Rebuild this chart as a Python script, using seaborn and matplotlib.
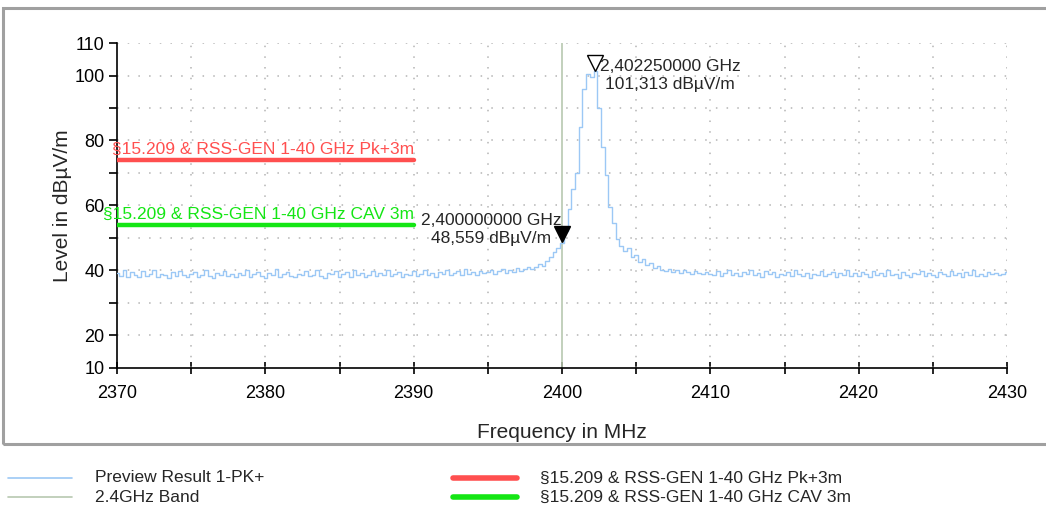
import numpy as np
import matplotlib.pyplot as plt
import seaborn as sns
from matplotlib.lines import Line2D
from matplotlib.patches import Rectangle
from matplotlib.transforms import offset_copy

# sweep: 2370 .. 2430 MHz, 0.25 MHz step
freq_start = 2370.0
freq_stop = 2430.0
freq_step = 0.25

level = [
    39.2, 38.4, 40.1, 38.0, 39.5, 38.7, 37.9, 39.8, 38.3, 38.9, 40.3, 38.1, 39.0, 38.6, 37.8, 39.4, 38.2, 39.9, 38.5, 37.9,
    38.8, 39.6, 38.0, 38.7, 40.0, 38.4, 37.7, 39.1, 38.6, 39.7, 38.2, 38.9, 37.9, 39.3, 38.5, 40.2, 38.1, 38.8, 39.5, 38.3,
    37.8, 39.2, 38.6, 40.4, 38.0, 38.9, 39.6, 38.3, 37.9, 39.0, 38.7, 39.8, 38.2, 38.5, 40.1, 38.4, 37.8, 39.3, 38.8, 39.7,
    38.1, 38.9, 39.4, 38.0, 40.0, 38.6, 39.1, 37.9, 38.7, 39.9, 38.3, 39.2, 38.5, 40.3, 38.2, 38.8, 39.5, 38.1, 39.0, 38.6,
    39.7, 38.4, 38.9, 40.2, 38.6, 39.3, 38.1, 39.6, 38.8, 40.0, 38.5, 39.2, 39.8, 38.7, 40.4, 38.9, 39.4, 38.6, 39.9, 39.1,
    39.5, 40.3, 38.9, 39.8, 40.6, 39.2, 40.1, 39.6, 40.8, 39.9, 40.5, 41.2, 40.4, 41.0, 42.1, 41.5, 43.0, 44.2, 45.6, 46.9,
    48.6, 52.0, 59.0, 65.0, 70.0, 84.0, 96.0, 100.5, 99.6, 101.3, 90.0, 78.0, 69.5, 59.5, 54.5, 49.8, 47.5, 46.0, 46.8, 44.3,
    44.8, 42.6, 43.5, 41.8, 42.4, 40.9, 41.3, 40.2, 39.8, 40.5, 39.6, 40.1, 39.3, 40.0, 39.4, 38.9, 39.7, 39.2, 38.8, 39.5,
    39.0, 38.6, 39.8, 38.4, 39.3, 40.2, 38.7, 39.1, 38.3, 39.6, 38.9, 40.0, 38.5, 39.2, 38.1, 39.7, 38.8, 39.4, 37.9, 39.0,
    38.6, 39.5, 38.2, 40.1, 38.9, 38.4, 39.3, 37.8, 39.0, 38.5, 39.8, 38.3, 38.9, 39.6, 38.0, 39.2, 38.7, 40.0, 38.4, 39.1,
    38.2, 39.4, 38.8, 37.9, 39.7, 38.5, 39.1, 38.3, 40.2, 38.6, 39.0, 37.8, 39.5, 38.7, 38.1, 39.3, 38.9, 39.8, 38.4, 39.2,
    38.5, 37.9, 39.6, 38.8, 38.3, 39.9, 38.6, 39.2, 38.0, 39.4, 38.7, 40.1, 38.4, 39.0, 38.2, 39.5, 38.8, 39.3, 38.5, 39.0,
    39.4,
]
freq = np.arange(freq_start, freq_stop + freq_step / 2, freq_step)

# limit lines (dBuV/m), drawn over 2370..2390 MHz
limit_freq = [2370, 2390]
limit_pk = [74, 74]
limit_cav = [54, 54]
band_edge = 2400

pk_label = "§15.209 & RSS-GEN 1-40 GHz Pk+3m"
cav_label = "§15.209 & RSS-GEN 1-40 GHz CAV 3m"

marker1 = (2402.25, 101.313)
marker2 = (2400.0, 48.559)

sns.set_style("white")
plt.rcParams['font.family'] = ['Liberation Sans', 'DejaVu Sans']

fig = plt.figure(figsize=(10.46, 5.12), dpi=100)
ax = fig.add_axes([0.1119, 0.2813, 0.8508, 0.6347])

trace_c = '#9cc8f5'
band_c = '#b8c8b0'
red_c = '#ff4f4f'
green_c = '#14e614'

ax.axvline(band_edge, color=band_c, lw=1.2, zorder=2)
sns.lineplot(x=freq, y=level, ax=ax, color=trace_c, lw=1, sort=False,
             estimator=None, drawstyle='steps-mid', zorder=3)
sns.lineplot(x=limit_freq, y=limit_pk, ax=ax, color=red_c, lw=3.2, estimator=None, zorder=4)
sns.lineplot(x=limit_freq, y=limit_cav, ax=ax, color=green_c, lw=3.2, estimator=None, zorder=4)

ax.text(2390, limit_pk[0] + 1.0, pk_label, color=red_c, fontsize=12.5, ha='right', va='bottom')
ax.text(2390, limit_cav[0] + 1.0, cav_label, color=green_c, fontsize=12.5, ha='right', va='bottom')

# markers
up = offset_copy(ax.transData, fig=fig, x=0, y=6, units='points')
ax.plot(*marker1, marker='v', ms=11, mfc='white', mec='black', mew=1, transform=up, zorder=6)
ax.plot(*marker2, marker='v', ms=11, mfc='black', mec='black', transform=up, zorder=6)
ax.text(marker1[0] + 0.3, marker1[1] + 3.8, "2,402250000 GHz\n101,313 dBµV/m",
        fontsize=12.5, ha='left', va='top', multialignment='center', linespacing=1.3, zorder=7)
ax.text(marker2[0] - 0.05, marker2[1] + 9.2, "2,400000000 GHz\n48,559 dBµV/m",
        fontsize=12.5, ha='right', va='top', multialignment='center', linespacing=1.3, zorder=7)

ax.set_xlim(2370, 2430)
ax.set_ylim(10, 110)
ax.set_xticks(np.arange(2370, 2431, 10))
ax.set_xticks(np.arange(2375, 2431, 10), minor=True)
ax.set_yticks(np.arange(10, 111, 10))
ax.set_yticklabels(['10', '20', '', '40', '', '60', '', '80', '', '100', '110'])

grid_kw = dict(color='#b4b4b4', lw=1.1, ls=(0, (1, 6)), zorder=1)
for y in range(20, 111, 10):
    ax.axhline(y, **grid_kw)
for x in np.arange(2375, 2431, 5):
    if x != band_edge:
        ax.axvline(x, **grid_kw)

for s in ['top', 'right']:
    ax.spines[s].set_visible(False)
for s in ['left', 'bottom']:
    ax.spines[s].set_color('black')
    ax.spines[s].set_linewidth(1.2)
ax.tick_params(axis='x', which='both', direction='inout', length=9, width=1.2,
               labelsize=13, pad=8, colors='black', bottom=True)
ax.tick_params(axis='y', which='both', direction='out', length=6, width=1.2,
               labelsize=13, pad=3, colors='black', left=True)

ax.set_xlabel("Frequency in MHz", fontsize=15, labelpad=15)
ax.set_ylabel("Level in dBµV/m", fontsize=15, labelpad=2)

# outer frame
fig.add_artist(Rectangle((3 / 1046, 1 - 444 / 512), 1.1, (444 - 8) / 512,
                         transform=fig.transFigure, fill=False, ec='#a0a0a0', lw=2.2))

# legend below the frame
leg_items = [
    (8, 478, trace_c, 1.2, "Preview Result 1-PK+"),
    (8, 497, band_c, 1.2, "2.4GHz Band"),
    (453, 478, red_c, 4, pk_label),
    (453, 497, green_c, 4, cav_label),
]
for x0, y0, c, lw, txt in leg_items:
    yf = 1 - y0 / 512
    fig.add_artist(Line2D([x0 / 1046, (x0 + 64) / 1046], [yf, yf], color=c, lw=lw,
                          transform=fig.transFigure))
    fig.text((x0 + 87) / 1046, yf, txt, fontsize=12.5, va='center', ha='left')

fig.savefig('out.png', dpi=100)
